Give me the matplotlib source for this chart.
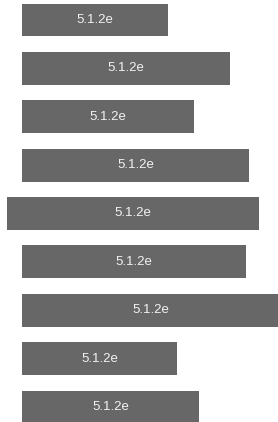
import matplotlib
matplotlib.use("Agg")
import matplotlib.pyplot as plt

plt.rcParams["font.family"] = ["Liberation Sans", "DejaVu Sans"]

# floating horizontal bars: start and end of each bar
labels = ["5.1.2e"] * 9
starts = [0, 0, 0, 0, -15, 0, 0, 0, 0]
ends = [146, 208, 172, 227, 237, 224, 257, 155, 177]
rows = list(range(len(labels)))

fig = plt.figure(figsize=(2.78, 4.22), dpi=100)
ax = fig.add_axes([0, 0, 1, 1])
ax.set_xlim(-22, 256)
ax.set_ylim(8.31, -0.413)
ax.axis("off")

widths = [e - s for s, e in zip(starts, ends)]
bars = ax.barh(rows, widths, left=starts, height=0.68, color="#676767")

for r, s, w, lab in zip(rows, starts, widths, labels):
    ax.text(s + w / 2, r, lab, ha="center", va="center", fontsize=9.5, color="#f2f2f2")

fig.savefig("out.png", dpi=100, facecolor="white")
